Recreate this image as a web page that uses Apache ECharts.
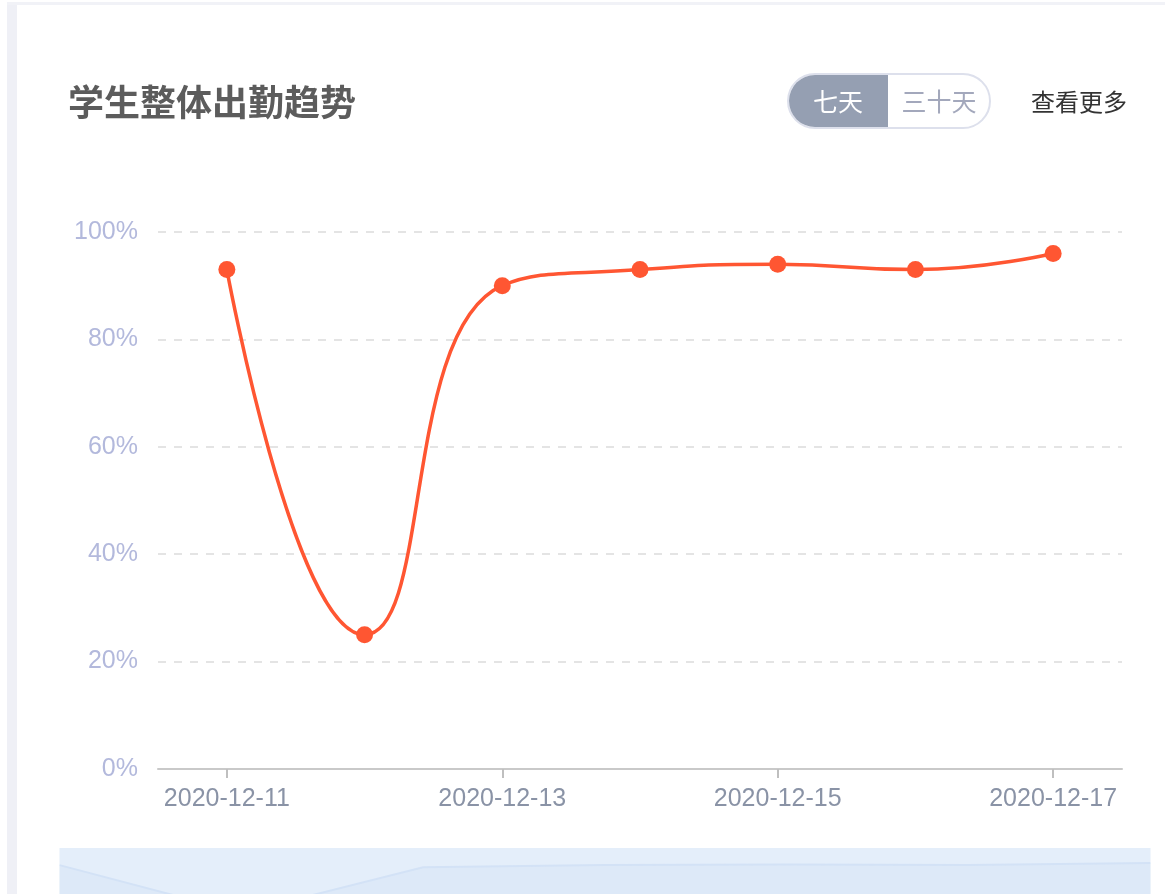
<!DOCTYPE html>
<html>
<head>
<meta charset="utf-8">
<title>学生整体出勤趋势</title>
<script src="https://cdn.jsdelivr.net/npm/echarts@6/dist/echarts.min.js"></script>
<style>
  html, body { margin: 0; padding: 0; background: #fff; }
  .frame-left { position: absolute; left: 7px; top: 2px; width: 10px; height: 892px; background: #eff0f6; }
  .frame-top { position: absolute; left: 7px; top: 2px; width: 1158px; height: 3px; background: #f1f2f7; }
  #chart { position: absolute; left: 0; top: 0; width: 1167px; height: 894px; }
</style>
</head>
<body>
<div class="frame-left"></div>
<div class="frame-top"></div>
<div id="chart"></div>
<script>
  // data
  let dates = ['2020-12-11', '2020-12-12', '2020-12-13', '2020-12-14', '2020-12-15', '2020-12-16', '2020-12-17']
  let attendance = [93, 25, 90, 93, 94, 93, 96]
  let yTicks = [0, 20, 40, 60, 80, 100]
  let tabs = ['七天', '三十天']

  let chart = echarts.init(document.getElementById('chart'))

  let labelFont = 'Liberation Sans, Noto Sans CJK SC, sans-serif'
  let cjkFont = 'Noto Sans CJK SC, sans-serif'

  let option = {
    animation: false,
    title: {
      text: '学生整体出勤趋势',
      left: 63,
      top: 79,
      textStyle: { color: '#5c5c5c', fontSize: 36, fontWeight: 'bold', fontFamily: cjkFont }
    },
    graphic: [
      {
        type: 'rect',
        shape: { x: 788, y: 74, width: 202, height: 54, r: 27 },
        style: { fill: '#fff', stroke: '#dde0ec', lineWidth: 2 }
      },
      {
        type: 'rect',
        shape: { x: 789, y: 75, width: 99, height: 52, r: [26, 0, 0, 26] },
        style: { fill: '#959fb2' }
      },
      {
        type: 'text',
        x: 838, y: 101,
        style: { text: tabs[0], fill: '#fff', font: '25px ' + cjkFont, align: 'center', verticalAlign: 'middle' }
      },
      {
        type: 'text',
        x: 939, y: 101,
        style: { text: tabs[1], fill: '#a3a8bc', font: '25px ' + cjkFont, align: 'center', verticalAlign: 'middle' }
      },
      {
        type: 'text',
        x: 1031, y: 102,
        style: { text: '查看更多', fill: '#333', font: '24px ' + cjkFont, align: 'left', verticalAlign: 'middle' }
      }
    ],
    grid: { left: 158, right: 45, top: 232, bottom: 125 },
    xAxis: {
      type: 'category',
      data: dates,
      boundaryGap: true,
      axisLine: { lineStyle: { color: '#c9c9c9', width: 2 } },
      axisTick: { show: true, alignWithLabel: true, interval: 1, length: 9, lineStyle: { color: '#bfbfbf', width: 2 } },
      axisLabel: { interval: 1, margin: 18, color: '#8a93a6', fontSize: 25, fontFamily: labelFont }
    },
    yAxis: {
      type: 'value',
      min: yTicks[0],
      max: yTicks[yTicks.length - 1],
      interval: 20,
      axisLine: { show: false },
      axisTick: { show: false },
      axisLabel: { formatter: '{value}%', margin: 20, color: '#b3b9dc', fontSize: 25, fontFamily: labelFont },
      splitLine: { lineStyle: { color: '#e4e4e4', width: 2, type: [8, 8] } }
    },
    dataZoom: [{
      type: 'slider',
      xAxisIndex: 0,
      start: 0,
      end: 100,
      left: 57,
      right: 19,
      top: 848,
      height: 80,
      backgroundColor: '#e4eefa',
      borderColor: 'transparent',
      fillerColor: 'rgba(0,0,0,0)',
      showDetail: false,
      brushSelect: false,
      handleSize: 0,
      handleStyle: { opacity: 0 },
      moveHandleSize: 0,
      dataBackground: {
        lineStyle: { color: '#d3e2f6', width: 2 },
        areaStyle: { color: '#dde9f8', opacity: 1 }
      },
      selectedDataBackground: {
        lineStyle: { color: '#d3e2f6', width: 2 },
        areaStyle: { color: '#dde9f8', opacity: 1 }
      }
    }],
    series: [{
      type: 'line',
      data: attendance,
      smooth: true,
      symbol: 'circle',
      symbolSize: 17,
      lineStyle: { color: '#ff5632', width: 3.5 },
      itemStyle: { color: '#ff5632' }
    }]
  }

  chart.setOption(option)
</script>
</body>
</html>
